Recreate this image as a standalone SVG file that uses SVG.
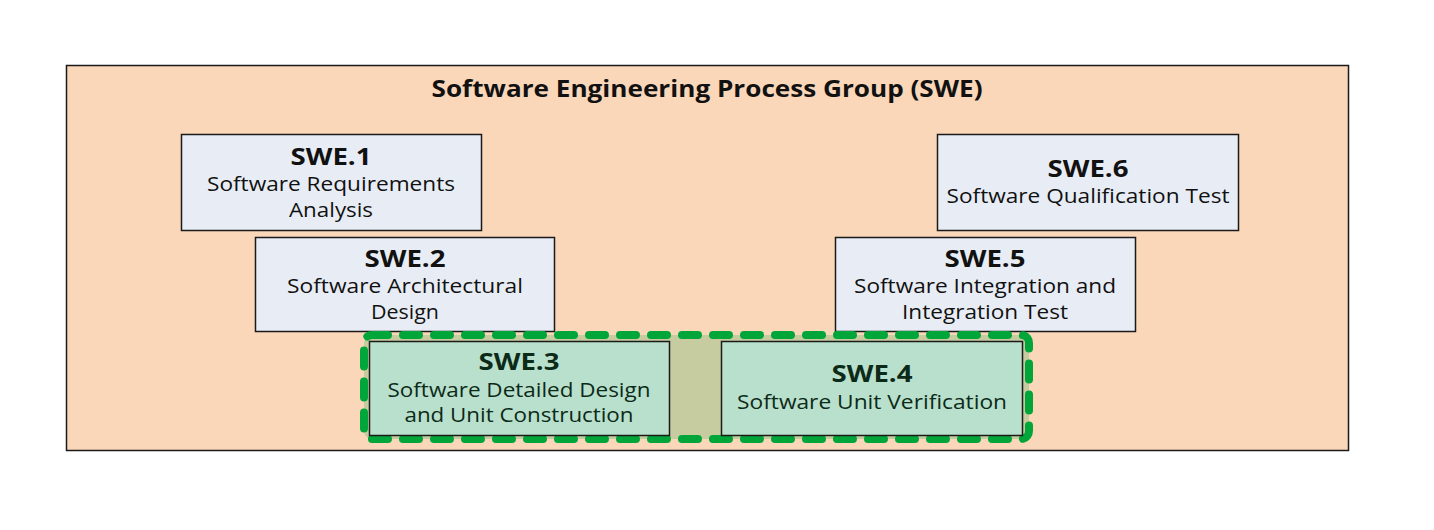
<svg xmlns="http://www.w3.org/2000/svg" width="1434" height="530" viewBox="0 0 1434 530">
  <style>
    .frame { fill: #fad7b9; stroke: #1a1a1a; stroke-width: 1.5; }
    .box { fill: #e8edf5; stroke: #1a1a1a; stroke-width: 1.5; }
    .sel { fill: #b9e0cc; stroke: #1a1a1a; stroke-width: 1.5; }
    .band { fill: #c6cc9f; stroke: #00a63a; stroke-width: 8; stroke-dasharray: 16 15; stroke-linecap: round; stroke-linejoin: round; }
    text { font-family: "Open Sans", "Noto Sans", "Liberation Sans", sans-serif; text-anchor: middle; fill: #111; }
    .title { font-size: 23px; font-weight: bold; }
    .id { font-size: 23px; font-weight: bold; }
    .name { font-size: 19.5px; }
    .dark { fill: #0c2a18; }
  </style>

  <g id="group-frame">
    <rect class="frame" x="66.5" y="65.5" width="1282" height="385"/>
    <text class="title" x="707" y="97" textLength="551" lengthAdjust="spacingAndGlyphs">Software Engineering Process Group (SWE)</text>
  </g>

  <g id="swe1">
    <rect class="box" x="181.5" y="134.5" width="300" height="96"/>
    <text class="id" x="331" y="165" textLength="81" lengthAdjust="spacingAndGlyphs">SWE.1</text>
    <text class="name" x="331" y="191" textLength="248" lengthAdjust="spacingAndGlyphs">Software Requirements</text>
    <text class="name" x="331" y="217" textLength="84" lengthAdjust="spacingAndGlyphs">Analysis</text>
  </g>

  <g id="swe2">
    <rect class="box" x="255.5" y="237.5" width="299" height="94"/>
    <text class="id" x="405" y="267" textLength="81" lengthAdjust="spacingAndGlyphs">SWE.2</text>
    <text class="name" x="405" y="293" textLength="236" lengthAdjust="spacingAndGlyphs">Software Architectural</text>
    <text class="name" x="405" y="319" textLength="68" lengthAdjust="spacingAndGlyphs">Design</text>
  </g>

  <g id="swe6">
    <rect class="box" x="937.5" y="134.5" width="301" height="96"/>
    <text class="id" x="1088" y="177" textLength="81" lengthAdjust="spacingAndGlyphs">SWE.6</text>
    <text class="name" x="1088" y="203" textLength="283" lengthAdjust="spacingAndGlyphs">Software Qualification Test</text>
  </g>

  <g id="swe5">
    <rect class="box" x="835.5" y="237.5" width="300" height="94"/>
    <text class="id" x="985" y="267" textLength="81" lengthAdjust="spacingAndGlyphs">SWE.5</text>
    <text class="name" x="985" y="293" textLength="262" lengthAdjust="spacingAndGlyphs">Software Integration and</text>
    <text class="name" x="985" y="319" textLength="166" lengthAdjust="spacingAndGlyphs">Integration Test</text>
  </g>

  <g id="unit-level">
    <rect class="band" x="364" y="335" width="665" height="104" rx="8"/>
  </g>

  <g id="swe3">
    <rect class="sel" x="369.5" y="341.5" width="300" height="94"/>
    <text class="id dark" x="519" y="370" textLength="81" lengthAdjust="spacingAndGlyphs">SWE.3</text>
    <text class="name dark" x="519" y="397" textLength="263" lengthAdjust="spacingAndGlyphs">Software Detailed Design</text>
    <text class="name dark" x="519" y="422" textLength="229" lengthAdjust="spacingAndGlyphs">and Unit Construction</text>
  </g>

  <g id="swe4">
    <rect class="sel" x="721.5" y="341.5" width="301" height="94"/>
    <text class="id dark" x="872" y="382" textLength="81" lengthAdjust="spacingAndGlyphs">SWE.4</text>
    <text class="name dark" x="872" y="409" textLength="270" lengthAdjust="spacingAndGlyphs">Software Unit Verification</text>
  </g>

  <g id="connectors"></g>
</svg>
